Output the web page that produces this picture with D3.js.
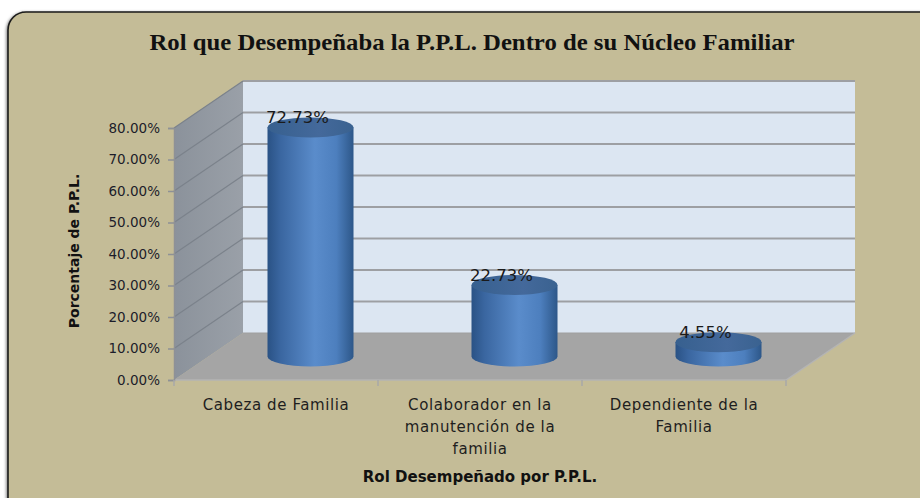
<!DOCTYPE html>
<html>
<head>
<meta charset="utf-8">
<script src="https://cdn.jsdelivr.net/npm/d3@7"></script>
<style>
  html, body { margin: 0; padding: 0; background: #ffffff; }
  svg { display: block; }
</style>
</head>
<body>
<svg width="920" height="498"></svg>
<script>
// values
const categories = ['Cabeza de Familia', 'Colaborador en la manutención de la familia', 'Dependiente de la Familia']
const categoryLines = [
  ['Cabeza de Familia'],
  ['Colaborador en la', 'manutención  de la', 'familia'],
  ['Dependiente de la', 'Familia']
]
const percents = [0.7273, 0.2273, 0.0455]
const percentLabels = ['72.73%', '22.73%', '4.55%']
const yTicks = [0, 0.1, 0.2, 0.3, 0.4, 0.5, 0.6, 0.7, 0.8]

const svg = d3.select('svg')

// depth offset of the 3d box
const dx = 69, dy = -47

const xScale = d3.scaleBand()
  .domain(categories)
  .range([174, 786])
  .padding(0)

const yScale = d3.scaleLinear()
  .domain([0, 0.8])
  // svg starts at the top, so bigger values go up
  .range([380, 128])

const defs = svg.append('defs')

const body = defs.append('linearGradient').attr('id', 'cyl')
body.selectAll('stop')
  .data([[0, '#2a5285'], [0.15, '#3a66a0'], [0.55, '#5a8ccb'], [0.8, '#4d7fbe'], [1, '#2d5789']])
  .enter().append('stop')
  .attr('offset', d => d[0])
  .attr('stop-color', d => d[1])

const side = defs.append('linearGradient').attr('id', 'side')
side.append('stop').attr('offset', 0).attr('stop-color', '#8b929b')
side.append('stop').attr('offset', 1).attr('stop-color', '#9aa0a8')

const topGrad = defs.append('linearGradient').attr('id', 'cyltop')
topGrad.append('stop').attr('offset', 0).attr('stop-color', '#37608f')
topGrad.append('stop').attr('offset', 0.6).attr('stop-color', '#44699b')
topGrad.append('stop').attr('offset', 1).attr('stop-color', '#3a6290')

const shadow = defs.append('filter').attr('id', 'shadow')
  .attr('x', -0.05).attr('y', -0.05).attr('width', 1.1).attr('height', 1.1)
shadow.append('feDropShadow').attr('dx', -1).attr('dy', 1).attr('stdDeviation', 1.5)
  .attr('flood-color', '#000').attr('flood-opacity', 0.5)

// chart area background
svg.append('rect')
  .attr('x', 8).attr('y', 12)
  .attr('width', 930).attr('height', 505)
  .attr('rx', 18)
  .attr('fill', '#c4bc97')
  .attr('stroke', '#1a1a1a')
  .attr('stroke-width', 1.6)
  .attr('filter', 'url(#shadow)')

svg.append('text')
  .attr('x', 472).attr('y', 50)
  .attr('text-anchor', 'middle')
  .attr('font-family', '"Liberation Serif", "Times New Roman", serif')
  .attr('font-weight', 'bold')
  .attr('font-size', 24)
  .attr('textLength', 645)
  .attr('lengthAdjust', 'spacingAndGlyphs')
  .attr('fill', '#111')
  .text('Rol que Desempeñaba la P.P.L.  Dentro de su Núcleo Familiar')

const x0 = xScale.range()[0], x1 = xScale.range()[1]
const y0 = yScale(0), yTop = yScale(0.8)

// back wall
svg.append('rect')
  .attr('x', x0 + dx).attr('y', yTop + dy)
  .attr('width', x1 - x0).attr('height', y0 - yTop)
  .attr('fill', '#dce6f2')

// side wall
svg.append('polygon')
  .attr('points', [[x0, y0], [x0 + dx, y0 + dy], [x0 + dx, yTop + dy], [x0, yTop]].join(' '))
  .attr('fill', 'url(#side)')

// floor
svg.append('polygon')
  .attr('points', [[x0, y0], [x1, y0], [x1 + dx, y0 + dy], [x0 + dx, y0 + dy]].join(' '))
  .attr('fill', '#a5a5a5')

// gridlines on the walls
svg.selectAll('.grid-back')
  .data(yTicks.filter(t => t > 0))
  .enter().append('line')
  .classed('grid-back', true)
  .attr('x1', x0 + dx).attr('x2', x1 + dx)
  .attr('y1', d => yScale(d) + dy).attr('y2', d => yScale(d) + dy)
  .attr('stroke', '#9d9fa3')
  .attr('stroke-width', 1.8)

svg.selectAll('.grid-side')
  .data(yTicks.filter(t => t > 0))
  .enter().append('line')
  .classed('grid-side', true)
  .attr('x1', x0).attr('x2', x0 + dx)
  .attr('y1', d => yScale(d)).attr('y2', d => yScale(d) + dy)
  .attr('stroke', '#7b828b')
  .attr('stroke-width', 1.2)

// edges of floor
svg.append('line')
  .attr('x1', x0 + dx).attr('x2', x1 + dx)
  .attr('y1', y0 + dy).attr('y2', y0 + dy)
  .attr('stroke', '#a0a0a0').attr('stroke-width', 1)
svg.append('polyline')
  .attr('points', [[x0, y0], [x1, y0], [x1 + dx, y0 + dy]].join(' '))
  .attr('fill', 'none')
  .attr('stroke', '#b4b4b4').attr('stroke-width', 1.5)

// y axis
const yAxis = svg.append('g')
  .attr('transform', `translate(${x0},0)`)
  .call(d3.axisLeft(yScale)
    .tickValues(yTicks)
    .tickFormat(d3.format('.2%'))
    .tickSize(6)
    .tickPadding(8))
yAxis.select('.domain').attr('stroke', '#8e9196').attr('stroke-width', 1.5)
yAxis.selectAll('.tick line').attr('stroke', '#8e9196').attr('stroke-width', 1.5)
yAxis.selectAll('.tick text')
  .attr('font-family', '"DejaVu Sans", Verdana, sans-serif')
  .attr('font-size', 13.5)
  .attr('fill', '#1c1c2a')

// category ticks at band edges
const edges = categories.map(c => xScale(c)).concat([x1])
svg.selectAll('.xtick')
  .data(edges)
  .enter().append('line')
  .classed('xtick', true)
  .attr('x1', d => d).attr('x2', d => d)
  .attr('y1', y0).attr('y2', y0 + 6)
  .attr('stroke', '#a9a9a9').attr('stroke-width', 1.5)

// category labels
svg.selectAll('.xlabel')
  .data(categories)
  .enter().append('text')
  .classed('xlabel', true)
  .attr('text-anchor', 'middle')
  .attr('font-family', '"DejaVu Sans", Verdana, sans-serif')
  .attr('font-size', 15)
  .attr('letter-spacing', 0.6)
  .attr('fill', '#1e1e1e')
  .each(function (c, i) {
    const t = d3.select(this)
    categoryLines[i].forEach((line, j) => {
      t.append('tspan')
        .attr('x', xScale(c) + xScale.bandwidth() / 2)
        .attr('y', 410 + j * 22)
        .text(line)
    })
  })

// cylinders
const rx = 43, ry = 10
const bars = svg.selectAll('.bar')
  .data(categories.map((c, i) => ({ c, v: percents[i], label: percentLabels[i] })))
  .enter().append('g')
  .classed('bar', true)

const cx = d => xScale(d.c) + xScale.bandwidth() / 2 + dx / 2
const base = yScale(0) + dy / 2
const topY = d => yScale(d.v) + dy / 2

bars.append('path')
  .attr('d', d => `M${cx(d) - rx},${topY(d)} L${cx(d) - rx},${base} A${rx},${ry} 0 0 0 ${cx(d) + rx},${base} L${cx(d) + rx},${topY(d)} Z`)
  .attr('fill', 'url(#cyl)')

bars.append('ellipse')
  .attr('cx', cx)
  .attr('cy', topY)
  .attr('rx', rx).attr('ry', ry)
  .attr('fill', 'url(#cyltop)')

bars.append('text')
  .attr('x', d => cx(d) - 13)
  .attr('y', d => topY(d) - 4)
  .attr('text-anchor', 'middle')
  .attr('font-family', '"DejaVu Sans", Verdana, sans-serif')
  .attr('font-size', 16.5)
  .attr('fill', '#1a1a1a')
  .text(d => d.label)

// axis titles
svg.append('text')
  .attr('transform', 'translate(79,251) rotate(-90)')
  .attr('text-anchor', 'middle')
  .attr('font-family', '"DejaVu Sans", Verdana, sans-serif')
  .attr('font-weight', 'bold')
  .attr('font-size', 14)
  .attr('fill', '#111')
  .text('Porcentaje de P.P.L.')

svg.append('text')
  .attr('x', 480).attr('y', 482)
  .attr('text-anchor', 'middle')
  .attr('font-family', '"DejaVu Sans", Verdana, sans-serif')
  .attr('font-weight', 'bold')
  .attr('font-size', 15)
  .attr('fill', '#111')
  .text('Rol Desempeñado por P.P.L.')
</script>
</body>
</html>
